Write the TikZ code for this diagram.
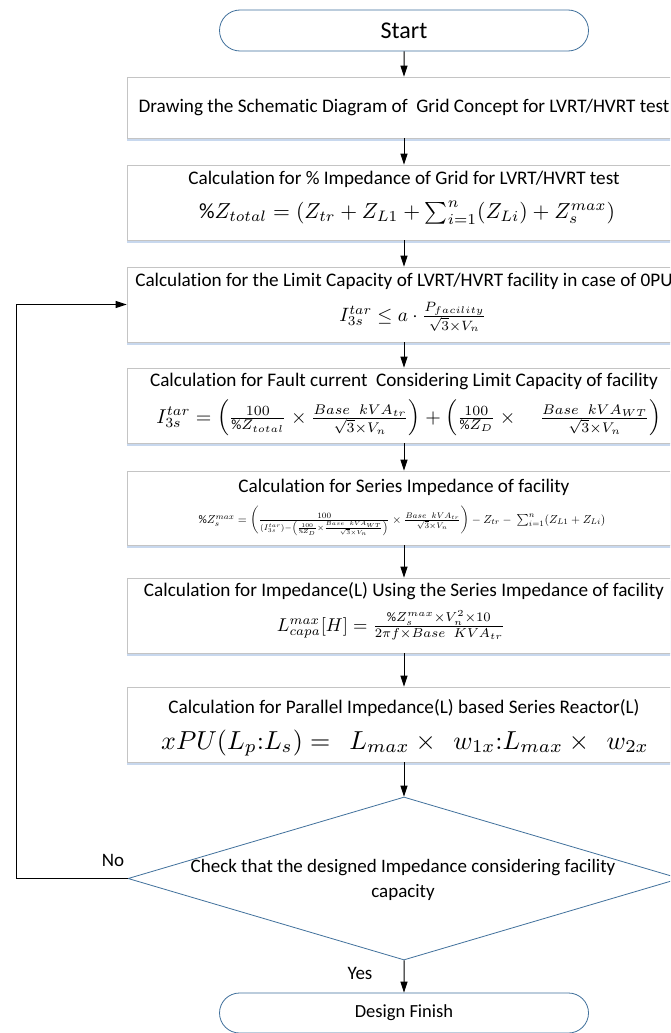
\documentclass[tikz,border=0pt]{standalone}
\usepackage{amsmath}
\usepackage{graphicx}
\usepackage{fontspec}
\setmainfont{Carlito}[Ligatures=NoCommon]
\usetikzlibrary{arrows.meta,shapes.geometric,shapes.misc,shadows}
\definecolor{boxgray}{RGB}{196,196,196}
\definecolor{flowblue}{RGB}{65,113,156}
\definecolor{shadowc}{RGB}{200,216,238}
\tikzset{
  stepbox/.style={draw=boxgray, line width=0.8pt, fill=white, minimum width=554pt, inner sep=0pt,
    drop shadow={shadow xshift=0pt, shadow yshift=-3pt, fill=shadowc, opacity=1}},
  term/.style={rounded rectangle, draw=flowblue, line width=0.8pt, fill=white, minimum width=369pt, minimum height=41pt, inner sep=0pt},
  decision/.style={diamond, draw=flowblue, line width=0.8pt, fill=white, minimum width=552pt, minimum height=163pt, inner sep=0pt},
  title/.style={inner sep=0pt, font=\fontsize{19.2}{22}\selectfont},
  lbl/.style={inner sep=0pt, font=\fontsize{19}{22}\selectfont},
  formula/.style={inner sep=0pt, font=\fontsize{10}{12}\selectfont},
  arr/.style={draw=black, line width=1pt, -{Triangle[length=11pt,width=7pt]}},
}
\begin{document}
\begin{tikzpicture}[x=1pt,y=-1pt]
\useasboundingbox (0,0) rectangle (670,1033);
\clip (0,0) rectangle (670,1033);
\fill[white] (0,0) rectangle (670,1033);

% terminals
\node[term, font=\fontsize{24}{28}\selectfont] (start) at (404,30.5) {Start};
\node[term, font=\fontsize{18.5}{22}\selectfont, minimum height=40pt] (finish) at (404,1013) {Design Finish};

% boxes
\node[stepbox, minimum height=61pt] (b1) at (404,107.5) {};
\node[stepbox, minimum height=75pt] (b2) at (404,202.5) {};
\node[stepbox, minimum height=75pt] (b3) at (404,304.5) {};
\node[stepbox, minimum height=75pt] (b4) at (404,405.5) {};
\node[stepbox, minimum height=74pt] (b5) at (404,508) {};
\node[stepbox, minimum height=75pt] (b6) at (404,615.5) {};
\node[stepbox, minimum height=75pt] (b7) at (404,724.5) {};

% decision
\node[decision] (dia) at (404,878.5) {};
\node[lbl, align=center, font=\fontsize{19}{25}\selectfont] (dtext) at (403,880) {Check that the designed Impedance considering facility\\capacity};

% texts
\node[title] (t1) at (404,107) {Drawing the Schematic Diagram of \ Grid Concept for LVRT/HVRT test};
\node[title] (t2) at (404,179) {Calculation for \% Impedance of Grid for LVRT/HVRT test};
\node[formula] (f2) at (407,213)
  {\scalebox{2.17}{$\%Z_{total} = (Z_{tr} + Z_{L1} + \sum_{i=1}^{n}(Z_{Li}) + Z_s^{max})$}};
\node[title] (t3) at (404,281) {Calculation for the Limit Capacity of LVRT/HVRT facility in case of 0PU};
\node[formula] (f3) at (413,317)
  {\scalebox{1.93}{$I_{3s}^{tar} \le a\cdot \frac{P_{facility}}{\sqrt{3}\times V_n}$}};
\node[title] (t4) at (404,381) {Calculation for Fault current \ Considering Limit Capacity of facility};
\node[formula] (f4) at (409,418)
  {\scalebox{2.0}{$I_{3s}^{tar} = \left(\frac{100}{\%Z_{total}}\times\frac{Base\ \ kVA_{tr}}{\sqrt{3}\times V_n}\right) + \left(\frac{100}{\%Z_D}\times\quad\frac{Base\ \ kVA_{WT}}{\sqrt{3}\times V_n}\right)$}};
\node[title] (t5) at (404,487) {Calculation for Series Impedance of facility};
\node[formula] (f5) at (402,521)
  {\scalebox{1.16}{$\%Z_s^{max} = \left(\frac{100}{(I_{3s}^{tar}) - \left(\frac{100}{\%Z_D}\times\frac{Base\ \ kVA_{WT}}{\sqrt{3}\times V_n}\right)}\times\frac{Base\ \ kVA_{tr}}{\sqrt{3}\times V_n}\right) - Z_{tr} - \ \sum_{i=1}^{n}(Z_{L1}+Z_{Li})$}};
\node[title] (t6) at (404,591) {Calculation for Impedance(L) Using the Series Impedance of facility};
\node[formula] (f6) at (391,625)
  {\scalebox{1.85}{$L_{capa}^{max}[H] = \frac{\%Z_s^{max}\times V_n^2\times 10}{2\pi f\times Base\ \ KVA_{tr}}$}};
\node[title] (t7) at (404,708) {Calculation for Parallel Impedance(L) based Series Reactor(L)};
\node[formula] (f7) at (405,743)
  {\scalebox{2.6}{$xPU(L_p{:}L_s) = \ \ L_{max}\times\ \ w_{1x}{:}L_{max}\times\ \ w_{2x}$}};

% connectors
\draw[arr] (start) -- (b1);
\draw[arr] (b1) -- (b2);
\draw[arr] (b2) -- (b3);
\draw[arr] (b3) -- (b4);
\draw[arr] (b4) -- (b5);
\draw[arr] (b5) -- (b6);
\draw[arr] (b6) -- (b7);
\draw[arr] (b7) -- (dia);
\draw[arr] (dia) -- (finish);
\coordinate (fb) at (16,878.5);
\draw[arr] (dia.west) -- (fb) |- (b3.west);

% labels
\node[lbl] (no) at (113,860) {No};
\node[lbl] (yes) at (360,973) {Yes};
\end{tikzpicture}
\end{document}
